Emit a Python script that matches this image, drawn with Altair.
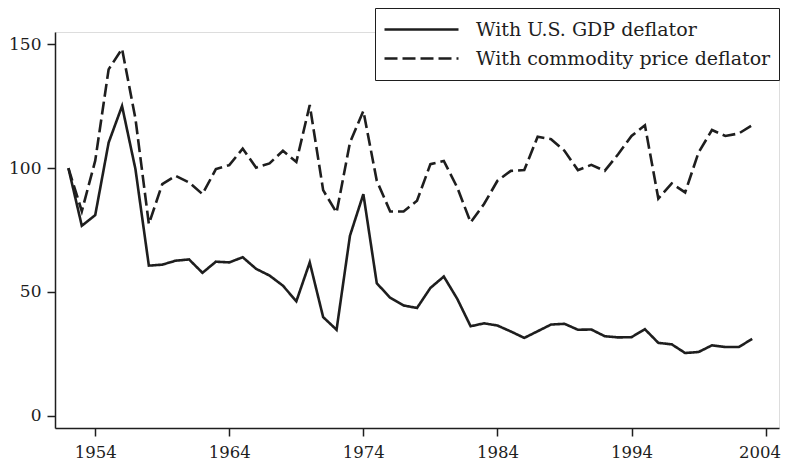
import altair as alt
import pandas as pd

years = list(range(1952, 2004))
gdp = [100, 76.7, 81.0, 110.3, 125.1, 99.6, 60.6, 61.0, 62.6, 63.1,
       57.7, 62.2, 61.9, 64.0, 59.3, 56.6, 52.5, 46.2, 61.9, 39.8,
       34.7, 72.7, 89.5, 53.5, 47.6, 44.5, 43.5, 51.6, 56.2, 47.2,
       36.1, 37.3, 36.4, 34.0, 31.4, 34.1, 36.8, 37.1, 34.7, 34.8,
       32.1, 31.6, 31.7, 34.9, 29.4, 28.8, 25.3, 25.7, 28.4, 27.7,
       27.7, 31.0]
commodity = [100, 82.6, 103.0, 139.9, 148.2, 120.0, 77.4, 93.5, 96.9, 94.2,
             89.5, 99.6, 101.2, 107.9, 100.2, 101.9, 107.0, 102.5, 125.5, 91.1,
             82.0, 110.3, 123.1, 94.9, 82.5, 82.5, 86.8, 101.6, 102.9, 92.2,
             78.1, 85.5, 94.9, 98.9, 99.2, 112.7, 111.7, 107.0, 99.2, 101.3,
             98.9, 105.6, 113.0, 117.3, 87.7, 93.8, 90.2, 106.3, 115.4, 113.0,
             114.0, 117.3]
series_names = ["With U.S. GDP deflator", "With commodity price deflator"]
x_ticks = [1954, 1964, 1974, 1984, 1994, 2004]
y_ticks = [0, 50, 100, 150]

df = pd.DataFrame({
    "year": years * 2,
    "value": gdp + commodity,
    "series": [series_names[0]] * len(years) + [series_names[1]] * len(years),
})

FONT = "DejaVu Serif"
INK = "#1e1e1e"

last_tick = f"datum.value == {x_ticks[-1]}"

chart = alt.Chart(df).mark_line(strokeWidth=2.6, color=INK).encode(
    x=alt.X("year:Q",
            scale=alt.Scale(domain=[1951, 2005], nice=False, zero=False),
            axis=alt.Axis(values=x_ticks, format="d", title=None, grid=False,
                          tickSize=8, labelPadding=8, labelFontSize=16.5,
                          labelAlign={"condition": {"test": last_tick, "value": "right"},
                                      "value": "center"},
                          labelOffset={"condition": {"test": last_tick, "value": 15},
                                       "value": 0},
                          labelFont=FONT, labelColor=INK, domainColor=INK,
                          tickColor=INK, domainWidth=1.5, tickWidth=1.5)),
    y=alt.Y("value:Q",
            scale=alt.Scale(domain=[-5, 155], nice=False, zero=False),
            axis=alt.Axis(values=y_ticks, title=None, grid=False,
                          tickSize=8, labelPadding=6, labelFontSize=17,
                          labelFont=FONT, labelColor=INK, domainColor=INK,
                          tickColor=INK, domainWidth=1.5, tickWidth=1.5)),
    strokeDash=alt.StrokeDash("series:N",
                              scale=alt.Scale(domain=series_names,
                                              range=[[1, 0], [13, 5]]),
                              legend=alt.Legend(
                                  title=None, orient="none",
                                  legendX=320, legendY=-24,
                                  symbolType="stroke", symbolSize=5476,
                                  symbolStrokeWidth=2.6, symbolStrokeColor=INK,
                                  clipHeight=27, labelOffset=16,
                                  labelFont=FONT, labelFontSize=19,
                                  labelColor=INK, labelLimit=400,
                                  strokeColor=INK, padding=8,
                                  fillColor="white")),
).properties(
    width=724, height=396,
    autosize=alt.AutoSizeParams(type="none"),
    padding={"left": 47, "top": 24, "right": 3, "bottom": 36},
).configure_view(stroke=None).configure(background="white")

chart.save("out.html", embed_options={"renderer": "svg", "actions": False})
